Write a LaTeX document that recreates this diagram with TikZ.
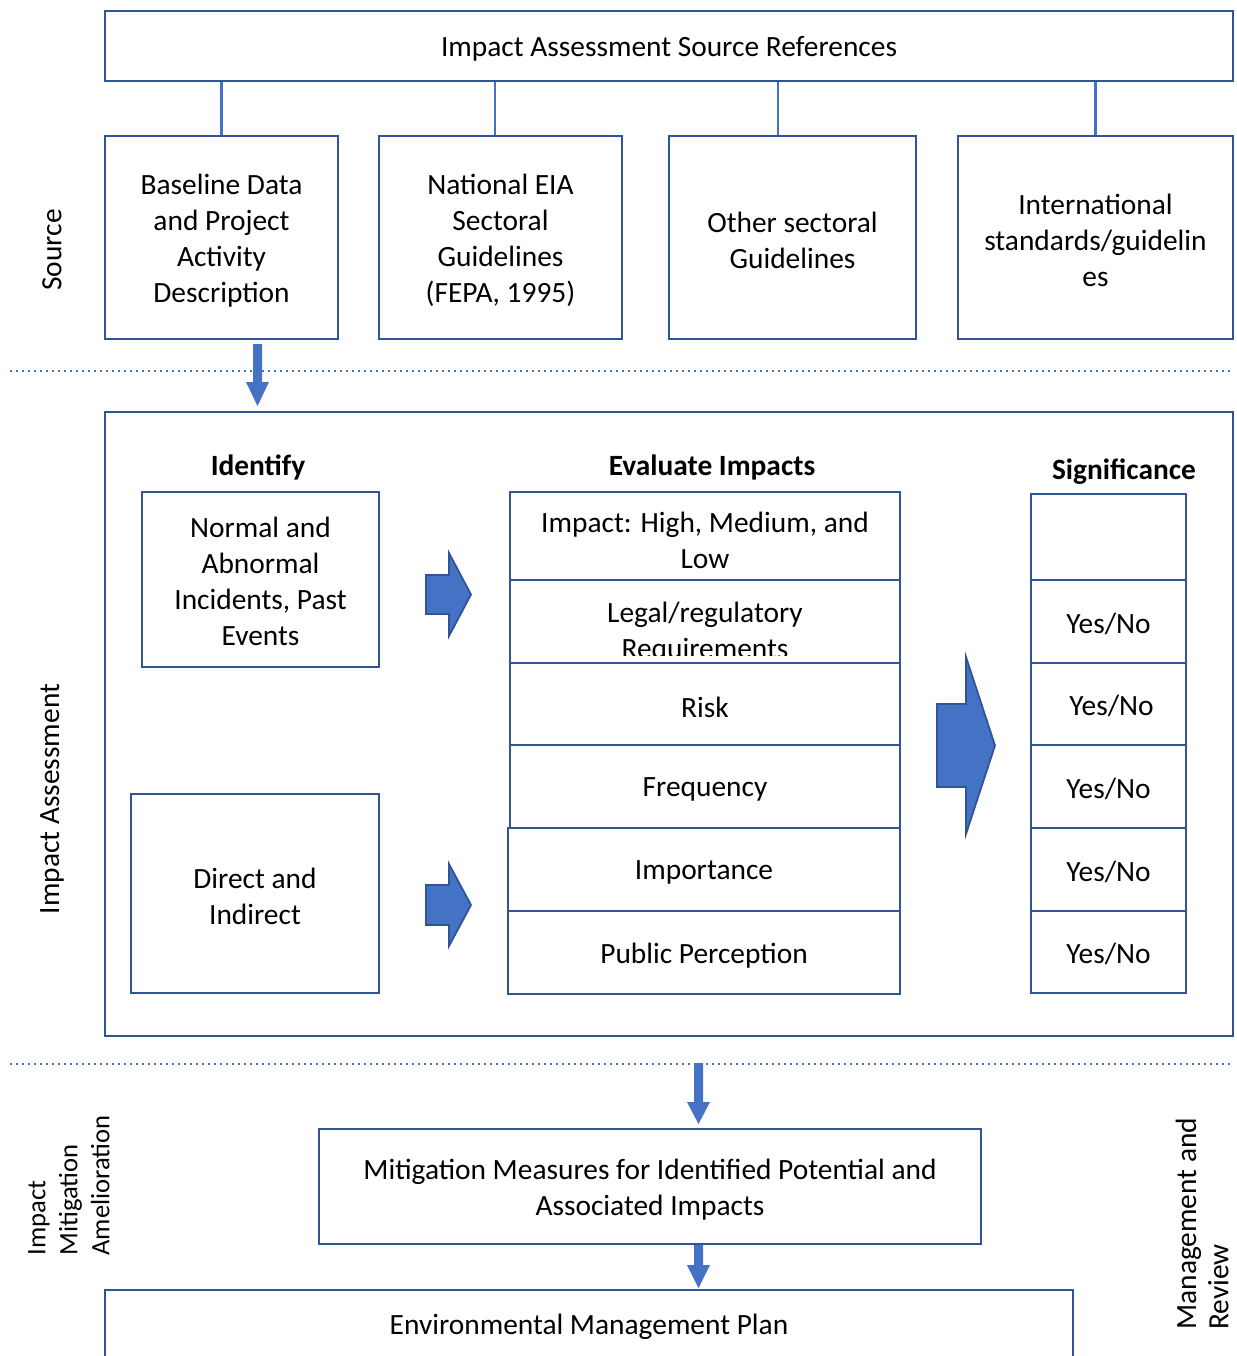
\documentclass[tikz,border=0pt]{standalone}
\usepackage{fontspec}
\setmainfont{Carlito}
\usetikzlibrary{calc,arrows.meta}
\definecolor{boxblue}{HTML}{2F5597}
\definecolor{fillblue}{HTML}{4472C4}

\begin{document}
\begin{tikzpicture}[x=0.5pt,y=-0.5pt,
  txt/.style={font=\fontsize{14.7}{18}\selectfont, align=center, text=black, inner sep=0pt},
  head/.style={font=\fontsize{14.7}{18}\selectfont\bfseries, text=black, inner sep=0pt},
  sidelabel/.style={font=\fontsize{14.7}{16.2}\selectfont, align=left, text=black, inner sep=0pt, rotate=90},
  box/.style={draw=boxblue, line width=1.25pt, inner sep=0pt, minimum width=#1},
  link/.style={draw=fillblue, line width=1.1pt},
  sep/.style={draw=fillblue, line width=1pt, dotted},
  downarr/.style={draw=none, fill=fillblue},
  blockarr/.style={draw=boxblue, line width=0.9pt, fill=fillblue, line join=miter}
]
\useasboundingbox (0,0) rectangle (1237,1356);

% ---------- Source references ----------
\node[box=564pt, minimum height=35pt] (top) at (669,46) {};
\node[txt] (topT) at ([yshift=-1.5pt]top.center) {Impact Assessment Source References};

\node[box=116.5pt, minimum height=101.5pt] (srcA) at (221.5,237.5) {};
\node[box=121.5pt, minimum height=101.5pt] (srcB) at (500.5,237.5) {};
\node[box=123.5pt, minimum height=101.5pt] (srcC) at (792.5,237.5) {};
\node[box=137.5pt, minimum height=101.5pt] (srcD) at (1095.5,237.5) {};
\node[txt] (srcAT) at ([yshift=-1.5pt]srcA.center) {Baseline Data\\and Project\\Activity\\Description};
\node[txt] (srcBT) at ([yshift=-1.5pt]srcB.center) {National EIA\\Sectoral\\Guidelines\\(FEPA, 1995)};
\node[txt] (srcCT) at ([yshift=-1.5pt]srcC.center) {Other sectoral\\Guidelines};
\node[txt] (srcDT) at ([yshift=-1.5pt]srcD.center) {International\\standards/guidelin\\es};

\draw[link] (srcA.north |- top.south) -- (srcA.north);
\draw[link] ([xshift=-2.75pt]srcB.north |- top.south) -- ([xshift=-2.75pt]srcB.north);
\draw[link] ([xshift=-7.25pt]srcC.north |- top.south) -- ([xshift=-7.25pt]srcC.north);
\draw[link] (srcD.north |- top.south) -- (srcD.north);

\node[sidelabel] (lblSource) at (52,250) {Source};

% section separators
\coordinate (sepAL) at (10,371);
\coordinate (sepAR) at (1233,371);
\coordinate (sepBL) at (10,1064);
\coordinate (sepBR) at (1233,1064);
\draw[sep] (sepAL) -- (sepAR);
\draw[sep] (sepBL) -- (sepBR);

% ---------- Impact assessment ----------
\node[box=564pt, minimum height=312pt] (assess) at (669,724) {};
\node[sidelabel] (lblAssess) at (52,799) {Impact Assessment};

% arrow from the baseline box into the assessment panel
\draw[downarr] (253,344) -- (262,344) -- (262,382) -- (269,382) -- (257.5,406)
  -- (246,382) -- (253,382) -- cycle;

\node[head] (hIdentify) at (258,467) {Identify};
\node[head] (hEvaluate) at (712,467) {Evaluate Impacts};
\node[head] (hSignif) at (1124,472) {Significance};

\node[box=118.5pt, minimum height=87.5pt] (normal) at (260.5,579.5) {};
\node[txt] (normalT) at ([yshift=-1pt]normal.center) {Normal and\\Abnormal\\Incidents, Past\\Events};
\node[box=124pt, minimum height=99.5pt] (direct) at (255,893.5) {};
\node[txt] (directT) at ([yshift=-1.5pt]direct.center) {Direct and\\Indirect};

% block arrows towards the evaluation column
\draw[blockarr] (426,575) -- (449,575) -- (449,553) -- (471,594.5) -- (449,636)
  -- (449,614) -- (426,614) -- cycle;
\draw[blockarr] (426,885) -- (449,885) -- (449,864) -- (471,905) -- (449,946)
  -- (449,925) -- (426,925) -- cycle;

% evaluation column
\node[box=195pt, minimum height=44pt] (ev1) at (705,536) {};
\node[box=195pt, minimum height=41.5pt] (ev2) at (705,621.5) {};
\node[box=195pt, minimum height=41pt] (ev3) at (705,704) {};
\node[box=195pt, minimum height=41.5pt] (ev4) at (705,786.5) {};
\node[box=196pt, minimum height=41.5pt] (ev5) at (704,869.5) {};
\node[box=196pt, minimum height=41.5pt] (ev6) at (704,952.5) {};
\node[txt] (ev1T) at (705,540) {Impact: High, Medium, and\\Low};
\begin{scope}
  \clip (510,580) rectangle (900,655);
  \node[txt] (ev2T) at (705,633) {Legal/regulatory\\Requirements};
\end{scope}
\node[txt] (ev3T) at ([yshift=-1.5pt]ev3.center) {Risk};
\node[txt] (ev4T) at ([yshift=-1.5pt]ev4.center) {Frequency};
\node[txt] (ev5T) at ([yshift=-1.5pt]ev5.center) {Importance};
\node[txt] (ev6T) at ([yshift=-1.5pt]ev6.center) {Public Perception};

% large block arrow towards significance
\draw[blockarr] (937,704) -- (966,704) -- (966,657) -- (995,745.5) -- (966,834)
  -- (966,787) -- (937,787) -- cycle;

% significance column
\node[box=77.5pt, minimum height=43pt] (sg0) at (1108.5,537) {};
\node[box=77.5pt, minimum height=41.5pt] (sg1) at (1108.5,621.5) {};
\node[box=77.5pt, minimum height=41pt] (sg2) at (1108.5,704) {};
\node[box=77.5pt, minimum height=41.5pt] (sg3) at (1108.5,786.5) {};
\node[box=77.5pt, minimum height=41.5pt] (sg4) at (1108.5,869.5) {};
\node[box=77.5pt, minimum height=41pt] (sg5) at (1108.5,952) {};
\node[txt] (sg1T) at ([yshift=-1pt]sg1.center) {Yes/No};
\node[txt] (sg2T) at ([xshift=1.5pt,yshift=-1pt]sg2.center) {Yes/No};
\node[txt] (sg3T) at ([yshift=-1pt]sg3.center) {Yes/No};
\node[txt] (sg4T) at ([yshift=-1pt]sg4.center) {Yes/No};
\node[txt] (sg5T) at ([yshift=-1pt]sg5.center) {Yes/No};

% ---------- Mitigation and management ----------
\node[box=331pt, minimum height=57.5pt] (mitig) at (650,1186.5) {};
\node[txt] (mitigT) at ([yshift=-1.5pt]mitig.center) {Mitigation Measures for Identified Potential and\\Associated Impacts};
\draw[downarr] (694,1063) -- (703,1063) -- (703,1102) -- (710,1102) -- (698.5,1124)
  -- (687,1102) -- (694,1102) -- cycle;

\node[txt] (emp) at (589,1327) {Environmental Management Plan};
\draw[draw=boxblue, line width=1.25pt] (105,1362) -- (105,1290) -- (1073,1290) -- (1073,1362);
\draw[downarr] (694,1245) -- (703,1245) -- (703,1265) -- (710,1265) -- (698.5,1288)
  -- (687,1265) -- (694,1265) -- cycle;

\node[sidelabel, font=\fontsize{13.3}{16}\selectfont, anchor=south west] (lblMitig) at (110,1256) {Impact\\Mitigation\\Amelioration};
\node[sidelabel, anchor=south west] (lblManage) at (1229,1330) {Management and\\Review};

\end{tikzpicture}
\end{document}
